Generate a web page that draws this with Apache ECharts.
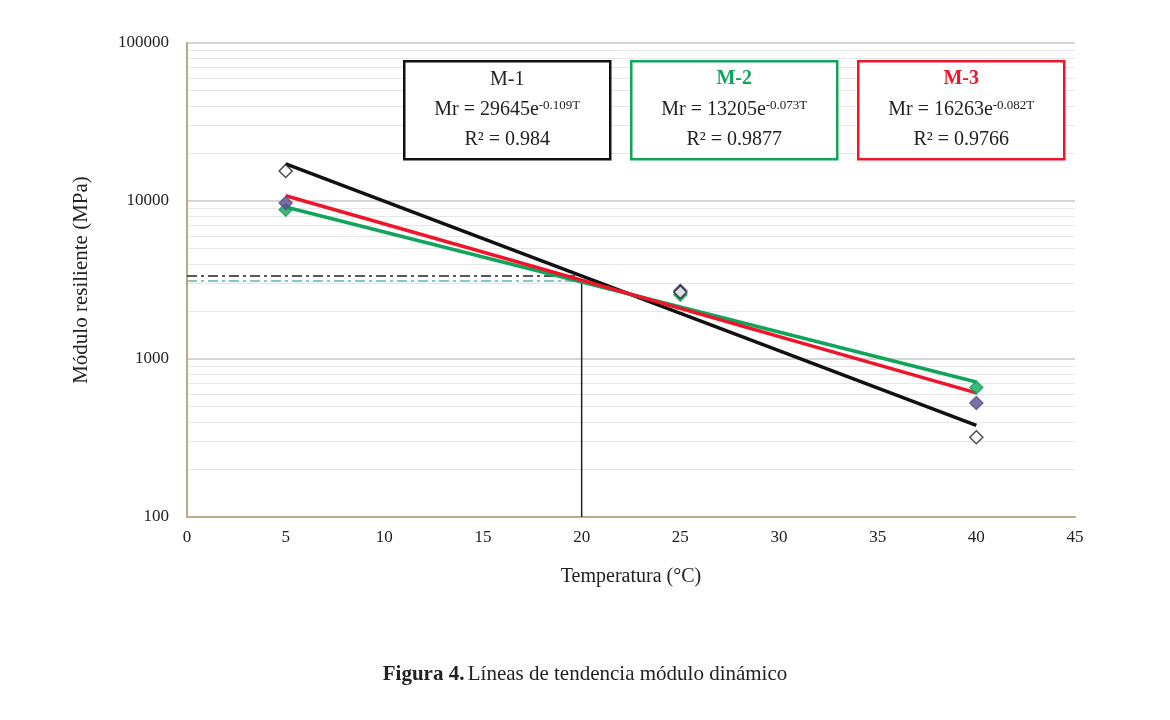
<!DOCTYPE html>
<html>
<head>
<meta charset="utf-8">
<script src="https://cdn.jsdelivr.net/npm/echarts@6/dist/echarts.min.js"></script>
<style>html,body{margin:0;background:#fff}#main{width:1170px;height:720px}</style>
</head>
<body>
<div id="main"></div>
<script>
// measured points
var temps = [5, 25, 40];
var m1Pts = [15500, 2650, 320];
var m2Pts = [8800, 2550, 660];
var m3Pts = [9700, 2700, 527];
// trend line endpoints (T = 5 and T = 40)
var trendT = [5, 40];
var m1Trend = [17150, 380];
var m2Trend = [9170, 715];
var m3Trend = [10790, 610];
// reference lines at T = 20
var refT = 20;
var refM1 = 3350;
var refM2 = 3120;

var F = 'Liberation Serif';
function pairs(xs, ys) { return xs.map(function (x, i) { return [x, ys[i]]; }); }
function trend(name, color, ys) {
	return { name: name, type: 'line', data: pairs(trendT, ys), symbol: 'none',
		lineStyle: { color: color, width: 3.5 }, z: 3 };
}
function pts(name, color, border, ys) {
	return { name: name, type: 'scatter', data: pairs(temps, ys), symbol: 'diamond', symbolSize: 13,
		itemStyle: { color: color, borderColor: border, borderWidth: 1.5 }, z: 5 };
}
function box(x, name, a, ex, r2, color) {
	var nameStyle = color === '#111' ? { fill: '#222' } : { fill: color, fontWeight: 'bold' };
	return { type: 'group', left: x, top: 60, z: 100, children: [
		{ type: 'rect', z: 100, shape: { x: 0, y: 0, width: 206, height: 98 },
			style: { fill: '#fff', stroke: color, lineWidth: 2.5 } },
		{ type: 'text', z: 101, x: 103, y: 8, style: { text: name, align: 'center', fontFamily: F, fontSize: 20,
			fill: nameStyle.fill, fontWeight: nameStyle.fontWeight || 'normal' } },
		{ type: 'text', z: 101, x: 103, y: 38, style: {
			text: '{m|Mr = ' + a + 'e}{s|' + ex + '}', align: 'center',
			rich: { m: { fontFamily: F, fontSize: 20, fill: '#222', verticalAlign: 'bottom' },
				s: { fontFamily: F, fontSize: 13, fill: '#222', verticalAlign: 'top' } } } },
		{ type: 'text', z: 101, x: 103, y: 68, style: { text: 'R² = ' + r2, align: 'center', fontFamily: F,
			fontSize: 20, fill: '#222' } }
	] };
}

var myChart = echarts.init(document.getElementById('main'));
var option = {
	animation: false,
	grid: { left: 187, right: 95, top: 43, bottom: 203 },
	xAxis: {
		type: 'value', min: 0, max: 45, interval: 5,
		axisLine: { lineStyle: { color: '#b8ac84', width: 2 } },
		axisTick: { show: false },
		splitLine: { show: false },
		axisLabel: { fontFamily: F, fontSize: 17, color: '#222', margin: 12 },
		name: 'Temperatura (°C)', nameLocation: 'middle', nameGap: 50,
		nameTextStyle: { fontFamily: F, fontSize: 20, color: '#222' }
	},
	yAxis: {
		type: 'log', logBase: 10, min: 100, max: 100000,
		axisLine: { show: true, lineStyle: { color: '#b8ac84', width: 2 } },
		axisTick: { show: false },
		splitLine: { lineStyle: { color: '#c8c8c8', width: 1.5 } },
		minorTick: { show: false, splitNumber: 9 },
		minorSplitLine: { show: true, lineStyle: { color: '#e6e6e6' } },
		axisLabel: { fontFamily: F, fontSize: 17, color: '#222', margin: 18,
			formatter: function (v) { return String(Math.round(v)); } },
		name: 'Módulo resiliente (MPa)', nameLocation: 'middle', nameGap: 95,
		nameTextStyle: { fontFamily: F, fontSize: 21, color: '#222' }
	},
	series: [
		{ type: 'line', data: [[0, refM1], [refT, refM1]], symbol: 'none',
			lineStyle: { color: '#222', width: 1.5, type: [10, 4, 3, 4] }, z: 2 },
		{ type: 'line', data: [[0, refM2], [refT, refM2]], symbol: 'none',
			lineStyle: { color: '#5fb8b0', width: 1.5, type: [10, 4, 3, 4] }, z: 2 },
		{ type: 'line', data: [[refT, 100], [refT, refM2]], symbol: 'none',
			lineStyle: { color: '#222', width: 1.5 }, z: 2 },
		trend('M-1', '#111', m1Trend),
		trend('M-2', '#10a55a', m2Trend),
		trend('M-3', '#f0142a', m3Trend),
		pts('M-2 pts', '#10a55a', '#10a55a', m2Pts),
		pts('M-3 pts', '#5e4d90', '#5e4d90', m3Pts),
		pts('M-1 pts', '#fff', '#222', m1Pts)
	],
	graphic: [
		box(403, 'M-1', '29645', '-0.109T', '0.984', '#111'),
		box(630, 'M-2', '13205', '-0.073T', '0.9877', '#10a55a'),
		box(857, 'M-3', '16263', '-0.082T', '0.9766', '#f0142a'),
		{ type: 'text', left: 'center', top: 664, style: {
			text: '{b|Figura 4.} {n|Líneas de tendencia módulo dinámico}',
			rich: { b: { fontFamily: F, fontSize: 21, fontWeight: 'bold', fill: '#222' },
				n: { fontFamily: F, fontSize: 21, fill: '#222' } } } }
	]
};
myChart.setOption(option);
</script>
</body>
</html>
